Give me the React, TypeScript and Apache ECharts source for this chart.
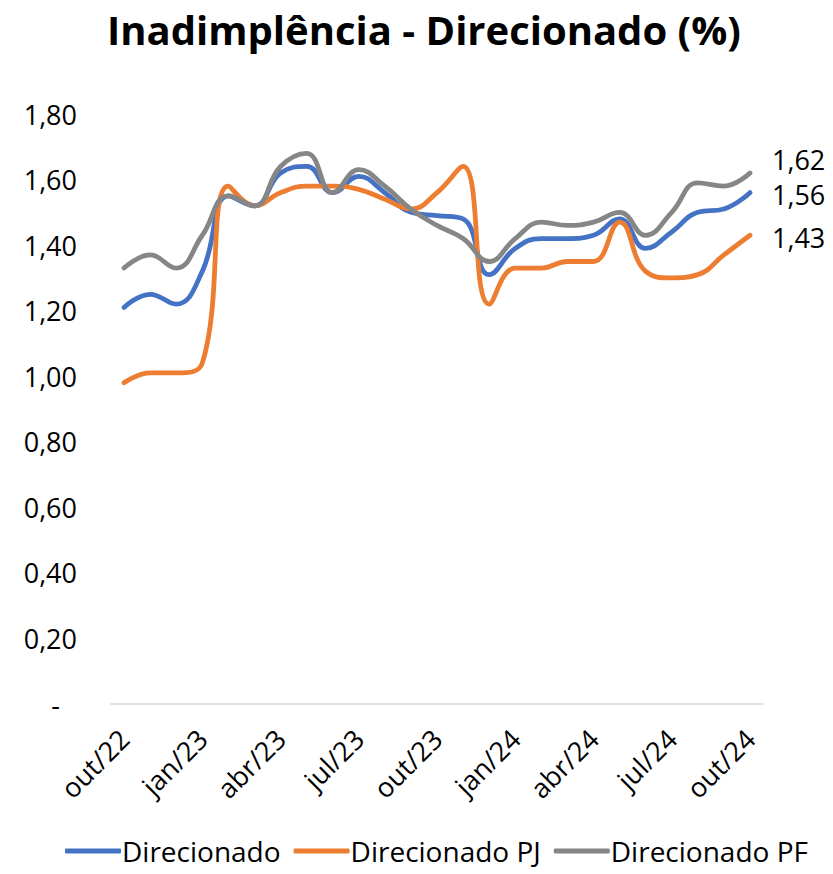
import React, { useEffect, useRef } from "react";
import * as echarts from "echarts";

const categories = [
  "out/22", "nov/22", "dez/22", "jan/23", "fev/23", "mar/23", "abr/23", "mai/23", "jun/23",
  "jul/23", "ago/23", "set/23", "out/23", "nov/23", "dez/23", "jan/24", "fev/24", "mar/24",
  "abr/24", "mai/24", "jun/24", "jul/24", "ago/24", "set/24", "out/24",
];
const direcionado = [1.21, 1.25, 1.22, 1.32, 1.55, 1.52, 1.62, 1.64, 1.56, 1.61, 1.56, 1.5, 1.49, 1.48, 1.31, 1.39, 1.42, 1.42, 1.43, 1.48, 1.39, 1.44, 1.5, 1.51, 1.56];
const direcionadoPJ = [0.98, 1.01, 1.01, 1.04, 1.58, 1.52, 1.56, 1.58, 1.58, 1.57, 1.54, 1.51, 1.56, 1.64, 1.22, 1.33, 1.33, 1.35, 1.35, 1.47, 1.32, 1.3, 1.31, 1.37, 1.43];
const direcionadoPF = [1.33, 1.37, 1.33, 1.43, 1.55, 1.52, 1.64, 1.68, 1.56, 1.63, 1.58, 1.51, 1.46, 1.42, 1.35, 1.42, 1.47, 1.46, 1.47, 1.5, 1.43, 1.5, 1.59, 1.58, 1.62];
const seriesNames = ["Direcionado", "Direcionado PJ", "Direcionado PF"];
const colors = ["#4472C4", "#ED7D31", "#868686"];

const FONT = "'Open Sans', 'Noto Sans', sans-serif";

export default function App() {
  const ref = useRef<HTMLDivElement>(null);
  useEffect(() => {
    if (!ref.current) return;
    const chart = echarts.init(ref.current, undefined, { renderer: "svg" });
    const fmt = (v: number) => v.toFixed(2).replace(".", ",");
    const mk = (name: string, data: number[], color: string, offsetY: number) => ({
      name,
      type: "line",
      data,
      smooth: 0.45,
      symbol: "none",
      lineStyle: { color, width: 4.8, cap: "round" },
      itemStyle: { color },
      endLabel: {
        show: true,
        distance: 22,
        offset: [0, offsetY],
        color: "#000",
        fontSize: 27,
        fontFamily: FONT,
        formatter: (p: any) => fmt(p.value),
      },
    });
    chart.setOption({
      animation: false,
      backgroundColor: "#fff",
      title: {
        text: "Inadimplência - Direcionado (%)",
        left: 102,
        top: 4,
        textStyle: { fontFamily: FONT, fontWeight: "bold", fontSize: 40, color: "#000" },
      },
      legend: {
        bottom: 4,
        left: 60,
        icon: "roundRect",
        itemWidth: 56,
        itemHeight: 5,
        itemGap: 13,
        textStyle: { fontFamily: FONT, fontSize: 28, color: "#000", padding: [0, 0, 0, -4] },
        data: seriesNames,
      },
      grid: { left: 111, right: 70, top: 114, bottom: 170, containLabel: false },
      xAxis: {
        type: "category",
        data: categories,
        boundaryGap: true,
        axisLine: { show: true, lineStyle: { color: "#D9D9D9", width: 1.5 } },
        axisTick: { show: false },
        axisLabel: {
          interval: 2,
          rotate: 45,
          margin: 30,
          color: "#000",
          fontSize: 27,
          fontFamily: FONT,
        },
        splitLine: { show: false },
      },
      yAxis: {
        type: "value",
        min: 0,
        max: 1.8,
        interval: 0.2,
        axisLine: { show: false },
        axisTick: { show: false },
        splitLine: { show: false },
        axisLabel: {
          margin: 34,
          color: "#000",
          fontSize: 27,
          fontFamily: FONT,
          formatter: (v: number) => (Math.abs(v) < 1e-9 ? "{d|-}" : fmt(v)),
          rich: { d: { fontSize: 27, fontFamily: FONT, color: "#000", padding: [0, 17, 0, 0] } },
        },
      },
      series: [
        mk(seriesNames[0], direcionado, colors[0], 2),
        mk(seriesNames[1], direcionadoPJ, colors[1], 2),
        mk(seriesNames[2], direcionadoPF, colors[2], -14),
      ],
    });
    return () => chart.dispose();
  }, []);
  return (
    <div
      ref={ref}
      style={{ position: "fixed", left: 0, top: 0, width: 833, height: 874 }}
    />
  );
}
